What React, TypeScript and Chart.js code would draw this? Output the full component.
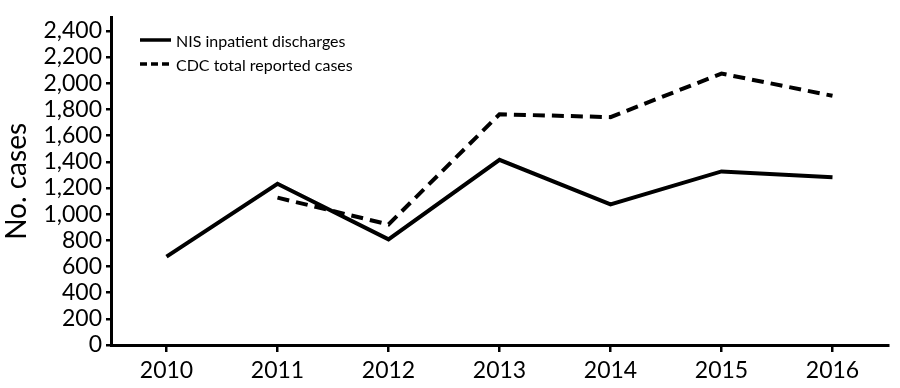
import React, { useEffect, useRef } from "react";
import { Chart, registerables } from "chart.js";

Chart.register(...registerables);

const years = ["2010", "2011", "2012", "2013", "2014", "2015", "2016"];
const nisDischarges = [675, 1232, 807, 1415, 1074, 1326, 1281];
const cdcReported = [null, 1126, 921, 1763, 1741, 2074, 1904];
const yTickMax = 2400;
const yTickStep = 200;
const legendLabels = ["NIS inpatient discharges", "CDC total reported cases"];

const FONT = "Lato, 'Open Sans', sans-serif";

export default function App() {
  const ref = useRef<HTMLCanvasElement | null>(null);

  useEffect(() => {
    if (!ref.current) return;
    const chart = new Chart(ref.current, {
      type: "line",
      data: {
        labels: years,
        datasets: [
          {
            label: legendLabels[0],
            data: nisDischarges,
            borderColor: "#000",
            borderWidth: 4,
            pointRadius: 0,
            tension: 0,
            fill: false,
            borderJoinStyle: "miter",
          },
          {
            label: legendLabels[1],
            data: cdcReported as any,
            borderColor: "#000",
            borderWidth: 4,
            borderDash: [12, 7],
            pointRadius: 0,
            tension: 0,
            fill: false,
            spanGaps: false,
          },
        ],
      },
      options: {
        animation: false,
        responsive: false,
        maintainAspectRatio: false,
        layout: { padding: { top: 7.5, right: 12, left: 0, bottom: 0 } },
        plugins: { legend: { display: false }, tooltip: { enabled: false } },
        scales: {
          x: {
            type: "category",
            offset: true,
            grid: {
              display: true,
              drawOnChartArea: false,
              drawTicks: true,
              tickLength: 7,
              color: "#000",
              lineWidth: 2.5,
              offset: false,
            },
            border: { display: true, color: "#000", width: 3 },
            ticks: {
              color: "#000",
              font: { family: FONT, size: 23 },
              padding: 5,
              maxRotation: 0,
            },
            afterFit: (s: any) => {
              s.height = 43;
            },
          },
          y: {
            type: "linear",
            min: 0,
            max: 2500,
            grid: {
              display: true,
              drawOnChartArea: false,
              drawTicks: true,
              tickLength: 5,
              color: "#000",
              lineWidth: 2.5,
            },
            border: { display: true, color: "#000", width: 3 },
            ticks: {
              autoSkip: false,
              color: "#000",
              font: { family: FONT, size: 23 },
              padding: 4,
              callback: (v: any) => Number(v).toLocaleString("en-US"),
            },
            afterBuildTicks: (axis: any) => {
              const t: any[] = [];
              for (let v = 0; v <= yTickMax; v += yTickStep) t.push({ value: v });
              axis.ticks = t;
            },
            afterFit: (s: any) => {
              s.width = 111;
            },
            title: {
              display: true,
              text: "No. cases",
              color: "#000",
              font: { family: FONT, size: 28 },
              padding: { top: 0, bottom: 0 },
            },
          },
        },
      },
    });
    return () => chart.destroy();
  }, []);

  const legendRow = (label: string, dashed: boolean, top: number) => (
    <div
      style={{
        position: "absolute",
        left: 140,
        top: top - 10,
        height: 20,
        display: "flex",
        alignItems: "center",
        fontFamily: FONT,
        fontSize: 16,
        color: "#000",
        whiteSpace: "nowrap",
      }}
    >
      <svg width={31} height={20} style={{ marginRight: 5 }}>
        <line
          x1={0}
          y1={10}
          x2={31}
          y2={10}
          stroke="#000"
          strokeWidth={3.5}
          strokeDasharray={dashed ? "7 4" : undefined}
        />
      </svg>
      <span>{label}</span>
    </div>
  );

  return (
    <div
      style={{
        position: "fixed",
        left: 0,
        top: 0,
        width: 900,
        height: 388,
        background: "#fff",
      }}
    >
      <canvas ref={ref} width={900} height={388} style={{ display: "block" }} />
      {legendRow(legendLabels[0], false, 40)}
      {legendRow(legendLabels[1], true, 64)}
    </div>
  );
}
